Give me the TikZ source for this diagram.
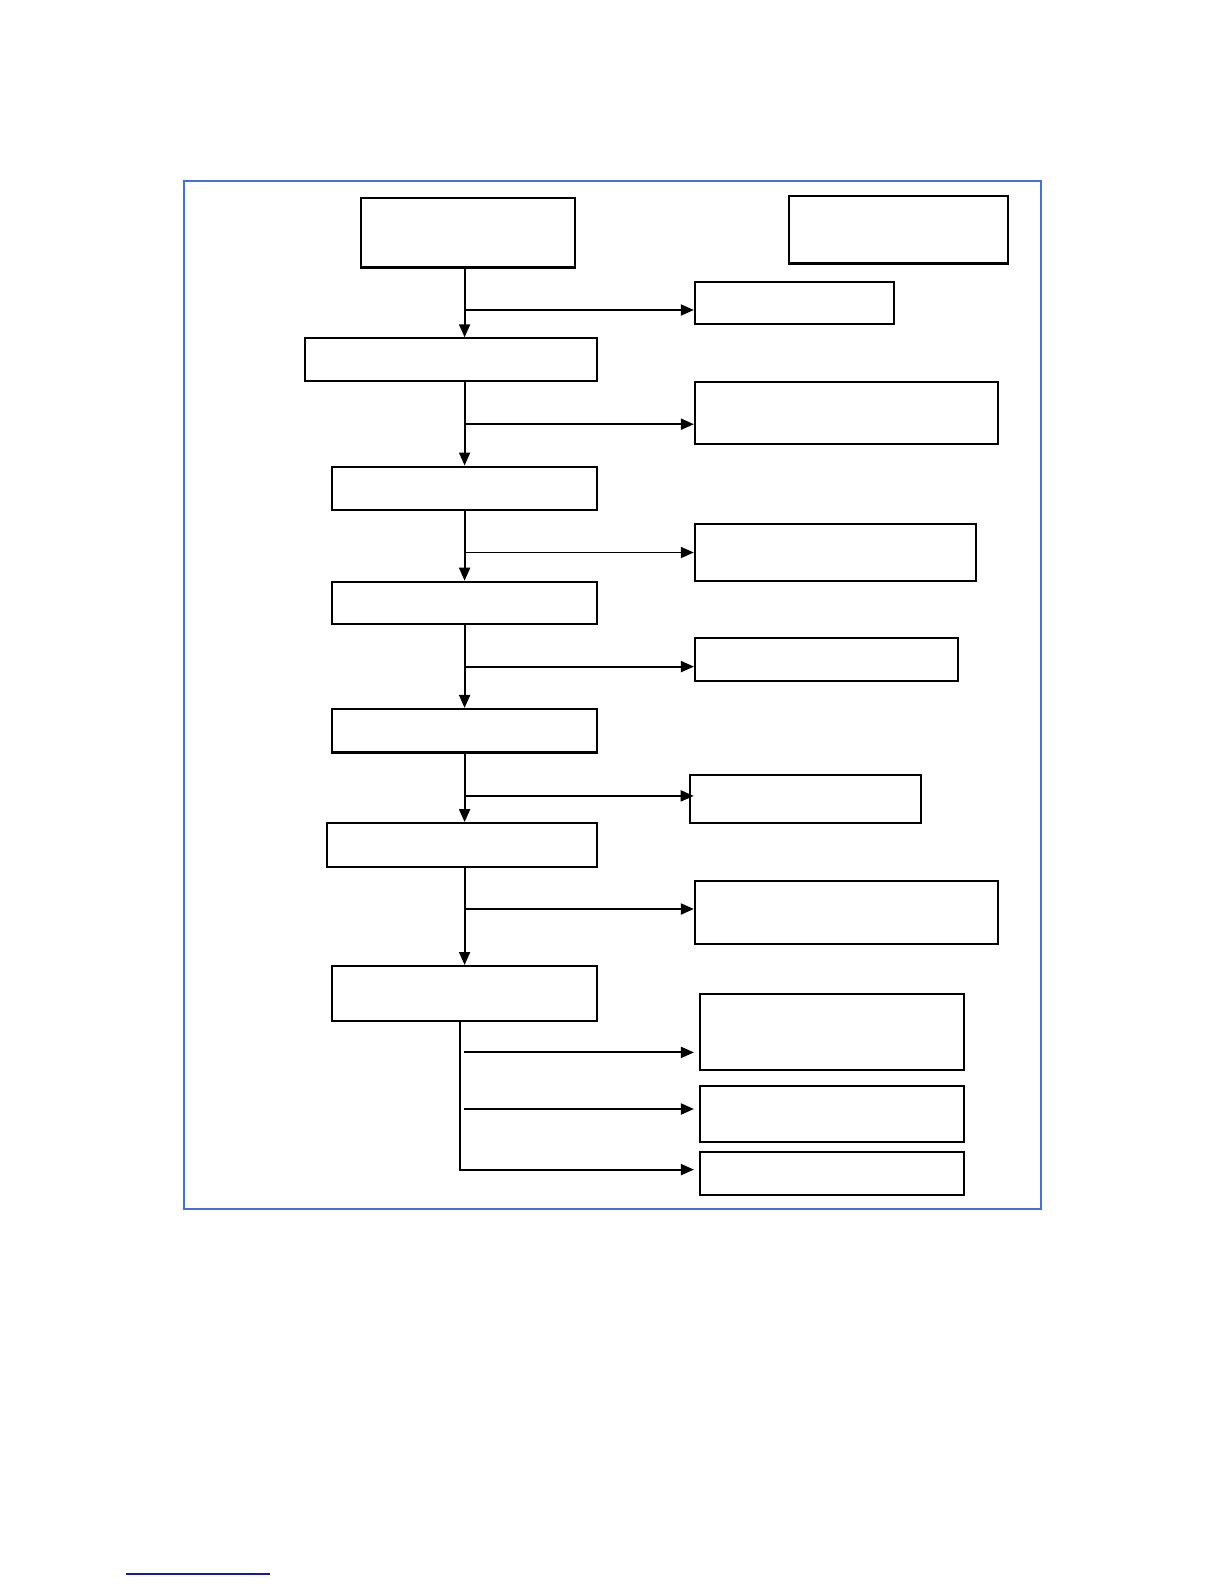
\documentclass[tikz,border=0pt]{standalone}
\usetikzlibrary{arrows.meta}
\definecolor{frameblue}{RGB}{68,112,218}
\definecolor{notenavy}{RGB}{24,24,160}
\begin{document}
\begin{tikzpicture}[x=0.02cm,y=-0.02cm,
		box/.style={draw=black, line width=1.2pt, inner sep=0pt},
		link/.style={line width=1.1pt, -{Triangle[length=2.6mm,width=2.2mm]}}]
		\useasboundingbox (0,0) rectangle (1224,1584);
		\draw[frameblue, line width=1.2pt] (183.8,180.8) rectangle (1041.3,1209);
		\draw[notenavy, line width=1.1pt] (126.3,1573.8) -- (269.5,1573.8);

		\node[box, minimum width=4.28cm, minimum height=1.39cm] (s0) at (467.6,232.8) {};
		\node[box, minimum width=5.84cm, minimum height=0.85cm] (s1) at (451,359.6) {};
		\node[box, minimum width=5.29cm, minimum height=0.87cm] (s2) at (464.6,488.3) {};
		\node[box, minimum width=5.29cm, minimum height=0.85cm] (s3) at (464.6,603) {};
		\node[box, minimum width=5.29cm, minimum height=0.87cm] (s4) at (464.6,730.7) {};
		\node[box, minimum width=5.39cm, minimum height=0.87cm] (s5) at (462,844.9) {};
		\node[box, minimum width=5.29cm, minimum height=1.09cm] (s6) at (464.6,993.3) {};

		\node[box, minimum width=4.38cm, minimum height=1.35cm] (note) at (898.4,229.8) {};
		\node[box, minimum width=3.98cm, minimum height=0.85cm] (r1) at (794.4,303) {};
		\node[box, minimum width=6.06cm, minimum height=1.25cm] (r2) at (846.4,413.1) {};
		\node[box, minimum width=5.62cm, minimum height=1.13cm] (r3) at (835.3,552.5) {};
		\node[box, minimum width=5.27cm, minimum height=0.85cm] (r4) at (826.7,659.5) {};
		\node[box, minimum width=4.63cm, minimum height=0.97cm] (r5) at (805.5,798.8) {};
		\node[box, minimum width=6.06cm, minimum height=1.27cm] (r6) at (846.4,912.5) {};
		\node[box, minimum width=5.29cm, minimum height=1.52cm] (r7) at (832.2,1031.7) {};
		\node[box, minimum width=5.29cm, minimum height=1.11cm] (r8) at (832.2,1114) {};
		\node[box, minimum width=5.29cm, minimum height=0.85cm] (r9) at (832.2,1173.6) {};

		\coordinate (spine) at (464.6,0);
		\draw[link] (s0.south -| spine) -- (s1.north -| spine);
		\draw[link] (s1.south -| spine) -- (s2.north);
		\draw[link] (s2.south) -- (s3.north);
		\draw[link] (s3.south) -- (s4.north);
		\draw[link] (s4.south) -- (s5.north -| spine);
		\draw[link] (s5.south -| spine) -- (s6.north);

		\coordinate (j1) at (464.6,310);
		\coordinate (j2) at (464.6,424.2);
		\coordinate (j3) at (464.6,552.5);
		\coordinate (j4) at (464.6,666.6);
		\coordinate (j5) at (464.6,795.9);
		\coordinate (j6) at (464.6,909);
		\coordinate (j7) at (464,1052.4);
		\coordinate (j8) at (464,1109);
		\coordinate (j9) at (459.6,1169.6);

		\draw[link] (j1) -- (j1 -| r1.west);
		\draw[link] (j2) -- (j2 -| r2.west);
		\draw[link] (j3) -- (j3 -| r3.west);
		\draw[link] (j4) -- (j4 -| r4.west);
		\draw[link, shorten >=-1mm] (j5) -- (j5 -| r5.west);
		\draw[link] (j6) -- (j6 -| r6.west);
		\draw[link, shorten >=1mm] (j7) -- (j7 -| r7.west);
		\draw[link, shorten >=1mm] (j8) -- (j8 -| r8.west);
		\draw[link, shorten >=1mm] (s6.south -| j9) -- (j9) -- (j9 -| r9.west);
	\end{tikzpicture}
\end{document}
